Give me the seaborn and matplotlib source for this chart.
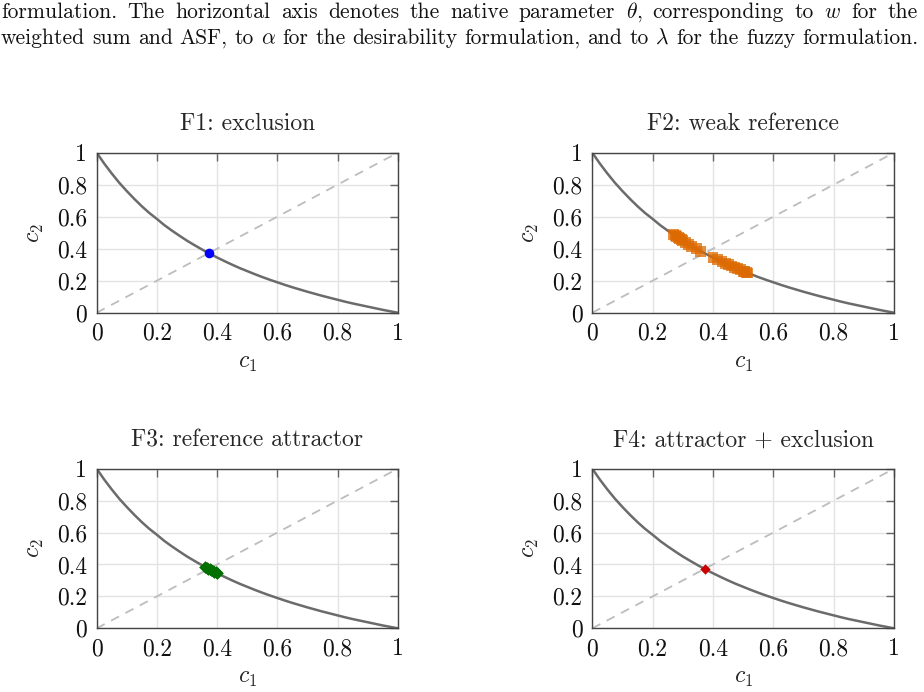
import matplotlib
matplotlib.use("Agg")
import matplotlib.pyplot as plt
import seaborn as sns
import pandas as pd

# ---- data ----
front_c1 = [0.0, 0.025, 0.05, 0.075, 0.1, 0.125, 0.15, 0.175, 0.2, 0.225, 0.25, 0.275,
            0.3, 0.325, 0.35, 0.375, 0.4, 0.425, 0.45, 0.475, 0.5, 0.525, 0.55, 0.575,
            0.6, 0.625, 0.65, 0.675, 0.7, 0.725, 0.75, 0.775, 0.8, 0.825, 0.85, 0.875,
            0.9, 0.925, 0.95, 0.975, 1.0]
front_c2 = [1.0, 0.932, 0.870, 0.812, 0.760, 0.711, 0.665, 0.623, 0.586, 0.547, 0.513, 0.481,
            0.450, 0.422, 0.395, 0.369, 0.345, 0.322, 0.300, 0.279, 0.260, 0.241, 0.223, 0.206,
            0.190, 0.174, 0.159, 0.145, 0.131, 0.118, 0.105, 0.093, 0.081, 0.069, 0.058, 0.048,
            0.038, 0.028, 0.018, 0.009, 0.0]

diag = [0.0, 1.0]

f1_c1 = [0.373]
f1_c2 = [0.371]

f2_c1 = [0.27, 0.275, 0.28, 0.285, 0.29, 0.295, 0.30, 0.31, 0.32, 0.33, 0.345, 0.36,
         0.40, 0.415, 0.43, 0.44, 0.45, 0.46, 0.47, 0.48, 0.49, 0.50, 0.505, 0.51, 0.515]
f2_c2 = [0.487, 0.481, 0.474, 0.468, 0.462, 0.456, 0.450, 0.439, 0.427, 0.416, 0.400, 0.384,
         0.345, 0.331, 0.318, 0.309, 0.300, 0.292, 0.284, 0.275, 0.268, 0.260, 0.256, 0.252, 0.248]

f3_c1 = [0.36, 0.365, 0.37, 0.375, 0.38, 0.385, 0.39, 0.395, 0.40]
f3_c2 = [0.384, 0.379, 0.374, 0.369, 0.364, 0.359, 0.354, 0.350, 0.345]

f4_c1 = [0.373]
f4_c2 = [0.371]

titles = ["F1: exclusion", "F2: weak reference", "F3: reference attractor",
          "F4: attractor + exclusion"]
ticks = [0, 0.2, 0.4, 0.6, 0.8, 1]
tick_labels = ["0", "0.2", "0.4", "0.6", "0.8", "1"]

caption1 = ("formulation. The horizontal axis denotes the native parameter $\\theta$, "
            "corresponding to $w$ for the")
caption2 = ("weighted sum and ASF, to $\\alpha$ for the desirability formulation, "
            "and to $\\lambda$ for the fuzzy formulation.")

# ---- style ----
sns.set_theme(style="white")
plt.rcParams["font.family"] = ["cmr10", "DejaVu Serif"]
plt.rcParams["mathtext.fontset"] = "cm"
plt.rcParams["axes.formatter.use_mathtext"] = True

FS = 17
W, H = 924, 692
fig = plt.figure(figsize=(W / 100, H / 100), dpi=100)

positions = [
    (96.7 / W, 1 - 312.7 / H, 301 / W, 160 / H),
    (592.3 / W, 1 - 312.7 / H, 301.7 / W, 160 / H),
    (96.7 / W, 1 - 628.3 / H, 301 / W, 159.6 / H),
    (592.3 / W, 1 - 628.3 / H, 301.7 / W, 159.6 / H),
]

series = [
    (f1_c1, f1_c2, dict(marker="o", color="#0000FF", s=48, edgecolor="#0000FF", linewidth=0, alpha=1.0)),
    (f2_c1, f2_c2, dict(marker="s", color="#DD6A00", s=62, edgecolor="none", linewidth=0, alpha=0.75)),
    (f3_c1, f3_c2, dict(marker="D", color="#007000", s=42, edgecolor="#007000", linewidth=0, alpha=1.0)),
    (f4_c1, f4_c2, dict(marker="D", color="#CC0000", s=28, edgecolor="#CC0000", linewidth=0, alpha=1.0)),
]

front_df = pd.DataFrame({"c1": front_c1, "c2": front_c2})
diag_df = pd.DataFrame({"c1": diag, "c2": diag})

for i, pos in enumerate(positions):
    ax = fig.add_axes(pos)
    ax.set_axisbelow(True)
    ax.grid(True, color="#e3e3e3", linewidth=1.0)
    sns.lineplot(data=diag_df, x="c1", y="c2", ax=ax, color="#bdbdbd",
                 linewidth=1.3, linestyle=(0, (5, 4)))
    sns.lineplot(data=front_df, x="c1", y="c2", ax=ax, color="#6b6b6b", linewidth=1.8)
    xs, ys, kw = series[i]
    sns.scatterplot(x=xs, y=ys, ax=ax, zorder=5, **kw)
    ax.set_xlim(0, 1)
    ax.set_ylim(0, 1)
    ax.set_xticks(ticks)
    ax.set_xticklabels(tick_labels)
    ax.set_yticks(ticks)
    ax.set_yticklabels(tick_labels)
    ax.tick_params(direction="in", length=6, width=1.0, color="#666666",
                   top=True, right=True, labelsize=FS, pad=7, labelcolor="#111111")
    for sp in ax.spines.values():
        sp.set_color("#444444")
        sp.set_linewidth(1.0)
    ax.set_xlabel("$c_1$", fontsize=FS, labelpad=5)
    ax.set_ylabel("$c_2$", fontsize=FS, labelpad=8)
    ax.set_title(titles[i], fontsize=FS, pad=16)

# justified caption lines
renderer = fig.canvas.get_renderer()
CAP_FS = 15.5
x_left, x_right = 1.0, 918.0
for line, yc in [(caption1, 12), (caption2, 38)]:
    words = line.split(" ")
    texts = [fig.text(0, 1 - yc / H, w, fontsize=CAP_FS, ha="left", va="center",
                      color="#111111") for w in words]
    widths = [t.get_window_extent(renderer).width for t in texts]
    gap = (x_right - x_left - sum(widths)) / (len(words) - 1)
    x = x_left
    for t, wdt in zip(texts, widths):
        t.set_x(x / W)
        x += wdt + gap

fig.savefig("out.png", dpi=100)
